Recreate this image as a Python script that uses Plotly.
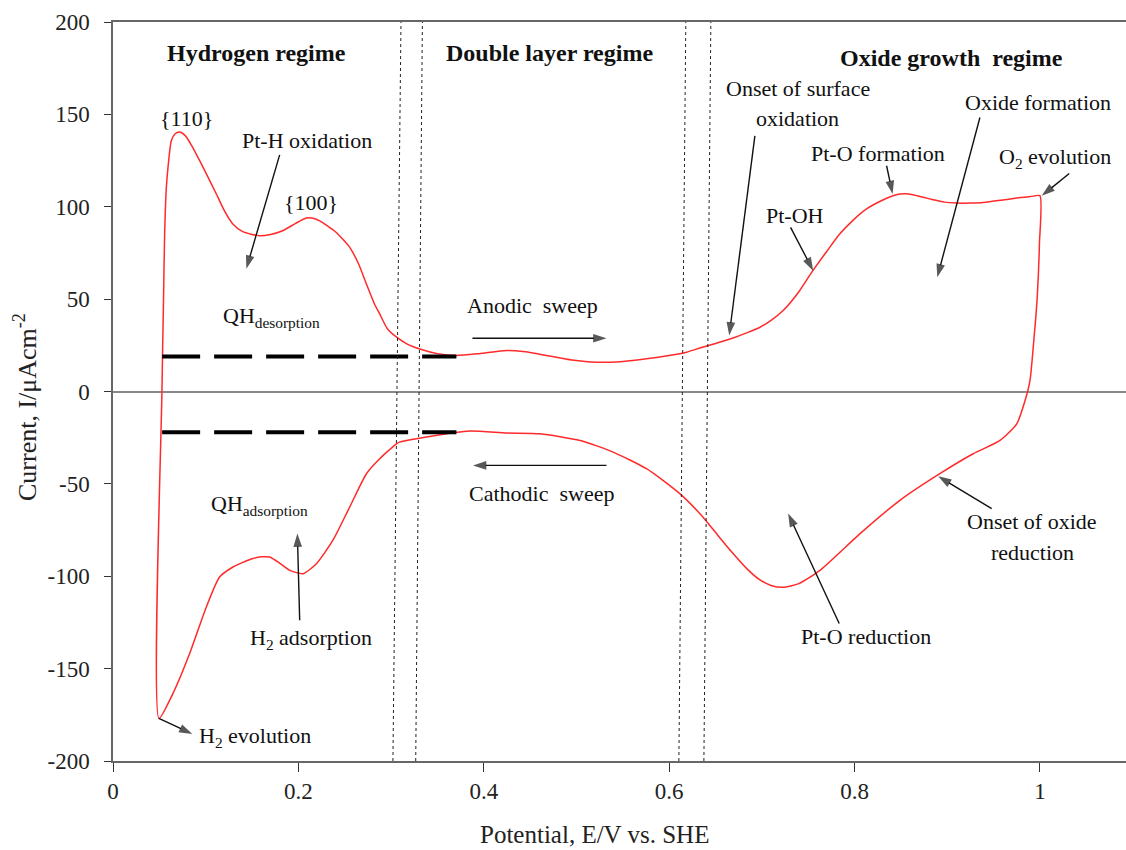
import plotly.graph_objects as go

# ---------------- data ----------------
# Cyclic voltammogram (one closed loop): anodic sweep then cathodic sweep
anodic_E = [0.0496, 0.0528, 0.0545, 0.0557, 0.0575, 0.0593, 0.0629, 0.0670, 0.0719, 0.0780,
            0.0850, 0.0935, 0.1025, 0.1115, 0.1200, 0.1290, 0.1400, 0.1580, 0.1700, 0.1830,
            0.1970, 0.2086, 0.2160, 0.2230, 0.2400, 0.2554, 0.2650, 0.2734, 0.2820, 0.2877,
            0.2960, 0.3060, 0.3180, 0.3310, 0.3500, 0.3705, 0.3950, 0.4245, 0.4450, 0.4677,
            0.4950, 0.5216, 0.5500, 0.5756, 0.6000, 0.6188, 0.6330, 0.6500, 0.6690, 0.6850,
            0.6980, 0.7100, 0.7230, 0.7400, 0.7550, 0.7700, 0.7840, 0.7980, 0.8130, 0.8300,
            0.8450, 0.8550, 0.8630, 0.8750, 0.8850, 0.8970, 0.9100, 0.9250, 0.9390, 0.9580,
            0.9750, 0.9900, 1.0000]
anodic_I = [-177.0, 0.0, 50.0, 85.0, 110.0, 121.0, 135.7, 139.5, 140.5, 138.5,
            133.0, 125.0, 116.0, 106.9, 98.0, 90.8, 86.5, 84.3, 85.0, 87.0,
            91.0, 93.9, 93.8, 92.4, 86.5, 78.0, 69.0, 58.2, 47.5, 42.0,
            34.0, 29.4, 25.5, 23.0, 20.5, 19.5, 20.5, 22.2, 21.5, 19.5,
            17.0, 15.8, 16.3, 17.7, 19.5, 21.3, 23.5, 26.0, 29.0, 32.0,
            34.8, 38.5, 43.8, 54.0, 65.4, 75.8, 85.2, 92.5, 98.8, 103.5,
            106.5, 107.0, 106.5, 105.0, 103.8, 102.5, 102.0, 102.0, 102.3, 103.5,
            104.7, 105.5, 106.0]

cathodic_E = [0.9995, 0.9970, 0.9930, 0.9893, 0.9840, 0.9750, 0.9570, 0.9280, 0.8920, 0.8490,
              0.8060, 0.7627, 0.7400, 0.7230, 0.7100, 0.6980, 0.6840, 0.6690, 0.6520, 0.6415,
              0.6330, 0.6115, 0.5756, 0.5396, 0.5040, 0.4605, 0.4245, 0.3850, 0.3417, 0.3090,
              0.3058, 0.2877, 0.2734, 0.2554, 0.2373, 0.2194, 0.2050, 0.1906, 0.1800, 0.1690,
              0.1600, 0.1510, 0.1400, 0.1294, 0.1150, 0.1007, 0.0827, 0.0647, 0.0496]
cathodic_I = [80.0, 50.0, 25.0, 5.9, -4.9, -17.5, -26.5, -33.7, -44.5, -58.9,
              -76.9, -96.8, -104.0, -106.0, -105.0, -102.0, -96.0, -87.7, -77.5, -71.0,
              -66.0, -55.3, -41.8, -32.8, -26.5, -22.9, -22.5, -21.4, -24.3, -27.4,
              -28.3, -36.4, -44.5, -62.5, -80.5, -93.2, -98.6, -96.8, -93.0, -89.6,
              -89.5, -90.4, -92.5, -95.0, -100.4, -116.6, -141.8, -163.4, -177.0]

# Double-layer baselines used for QH integration
qh_E = [0.0530, 0.3705]
qh_des_I = [19.0, 19.0]
qh_ads_I = [-22.0, -22.0]

# Regime boundaries (dotted lines; slightly slanted in the source figure: top, bottom)
boundary_top = [0.3107, 0.3338, 0.6180, 0.6450]
boundary_bottom = [0.3020, 0.3266, 0.6105, 0.6375]

x_tickvals = [0, 0.2, 0.4, 0.6, 0.8, 1.0]
x_ticktext = ["0", "0.2", "0.4", "0.6", "0.8", "1"]
y_tickvals = [-200, -150, -100, -50, 0, 50, 100, 150, 200]
y_ticktext = ["-200", "-150", "-100", "-50", "0", "50", "100", "150", "200"]

# ---------------- figure ----------------
FONT = "Liberation Serif"
fig = go.Figure()

fig.add_trace(go.Scatter(
    x=anodic_E + cathodic_E, y=anodic_I + cathodic_I, mode="lines",
    line=dict(color="#ff2a2a", width=1.5, shape="spline", smoothing=0.6),
    showlegend=False, hoverinfo="skip"))

for yy in (qh_des_I, qh_ads_I):
    fig.add_trace(go.Scatter(
        x=qh_E, y=yy, mode="lines",
        line=dict(color="black", width=4, dash="38px,14px"),
        showlegend=False, hoverinfo="skip"))

for xt, xb in zip(boundary_top, boundary_bottom):
    fig.add_shape(type="line", xref="x", yref="y", x0=xb, y0=-200, x1=xt, y1=200,
                  line=dict(color="#222", width=1, dash="dot"))

# arrows: (tail_x, tail_y, head_x, head_y) drawn as line + arrow marker
arrows = [
    (0.1798, 128.1, 0.1439, 66.5),
    (0.3878, 28.8, 0.5324, 28.8),
    (0.6925, 138.4, 0.6648, 30.3),
    (0.7310, 88.8, 0.7554, 65.4),
    (0.8346, 122.2, 0.8411, 106.9),
    (0.9353, 148.3, 0.8893, 61.8),
    (1.0317, 118.0, 1.0020, 105.9),
    (0.2014, -123.8, 0.1989, -76.9),
    (0.0495, -176.9, 0.0856, -185.4),
    (0.5324, -40.0, 0.3884, -40.0),
    (0.7835, -125.6, 0.7284, -66.1),
    (0.9480, -63.4, 0.8903, -45.9),
]
ax_x, ax_y, ax_sym, ax_size = [], [], [], []
for tx, ty, hx, hy in arrows:
    ax_x += [tx, hx, None]
    ax_y += [ty, hy, None]
    ax_sym += ["circle", "arrow", "circle"]
    ax_size += [0, 14, 0]
fig.add_trace(go.Scatter(
    x=ax_x, y=ax_y, mode="lines+markers", connectgaps=False,
    line=dict(color="#111", width=1.4),
    marker=dict(symbol=ax_sym, size=ax_size, color="#111",
                angleref="previous", line=dict(width=0)),
    showlegend=False, hoverinfo="skip", cliponaxis=False))

# text labels: (text, x, y, size, weight)
texts = [
    ("Hydrogen regime", 0.155, 183.2, 24, "bold"),
    ("Double layer regime", 0.4712, 183.2, 24, "bold"),
    ("Oxide growth  regime", 0.905, 180.5, 24, "bold"),
    ("{110}", 0.0791, 147.6, 22, "normal"),
    ("Pt-H oxidation", 0.2095, 135.7, 22, "normal"),
    ("{100}", 0.214, 102.3, 22, "normal"),
    ("QH<sub>desorption</sub>", 0.1712, 40.5, 22, "normal"),
    ("Anodic  sweep", 0.4529, 46.5, 22, "normal"),
    ("Onset of surface", 0.7389, 163.8, 22, "normal"),
    ("oxidation", 0.7389, 147.6, 22, "normal"),
    ("Pt-OH", 0.7362, 95.1, 22, "normal"),
    ("Pt-O formation", 0.8253, 128.8, 22, "normal"),
    ("Oxide formation", 0.9979, 156.4, 22, "normal"),
    ("O<sub>2</sub> evolution", 1.0168, 126.6, 22, "normal"),
    ("QH<sub>adsorption</sub>", 0.158, -61.6, 22, "normal"),
    ("H<sub>2</sub> adsorption", 0.214, -133.7, 22, "normal"),
    ("H<sub>2</sub> evolution", 0.1528, -186.9, 22, "normal"),
    ("Cathodic  sweep", 0.4626, -55.3, 22, "normal"),
    ("Pt-O reduction", 0.8123, -132.8, 22, "normal"),
    ("Onset of oxide", 0.9915, -70.6, 22, "normal"),
    ("reduction", 0.9915, -86.9, 22, "normal"),
]
for t, x, y, s, w in texts:
    fig.add_annotation(x=x, y=y, xref="x", yref="y", text=t, showarrow=False,
                       font=dict(family=FONT, size=s, color="#111", weight=w),
                       xanchor="center", yanchor="middle")

# axis titles
fig.add_annotation(text="Potential, E/V vs. SHE", xref="paper", yref="paper",
                   x=0.4758, y=-0.1000, showarrow=False, xanchor="center", yanchor="middle",
                   font=dict(family=FONT, size=25, color="#222"))
fig.add_annotation(text="Current, I/μAcm<sup>-2</sup>", xref="paper", yref="paper",
                   x=-0.0869, y=0.479, showarrow=False, textangle=-90,
                   xanchor="center", yanchor="middle",
                   font=dict(family=FONT, size=26, color="#222"))

fig.update_layout(
    width=1126, height=850,
    margin=dict(l=113, r=0, t=22, b=89),
    plot_bgcolor="white", paper_bgcolor="white",
    font=dict(family=FONT, size=23, color="#222"),
    xaxis=dict(range=[0, 1.0929], tickvals=x_tickvals, ticktext=x_ticktext,
               showgrid=False, zeroline=False, showline=True, linecolor="#666",
               linewidth=1.5, mirror=True, ticks="outside", ticklen=9, tickcolor="#333",
               tickwidth=1.2, ticklabelstandoff=0),
    yaxis=dict(range=[-200, 200], tickvals=y_tickvals, ticktext=y_ticktext, showgrid=False,
               zeroline=True, zerolinecolor="#888", zerolinewidth=1.5,
               showline=True, linecolor="#666", linewidth=1.5, mirror=False,
               ticks="outside", ticklen=7, tickcolor="#333", tickwidth=1.2,
               ticklabelstandoff=10),
)

fig.write_html("out.html")
